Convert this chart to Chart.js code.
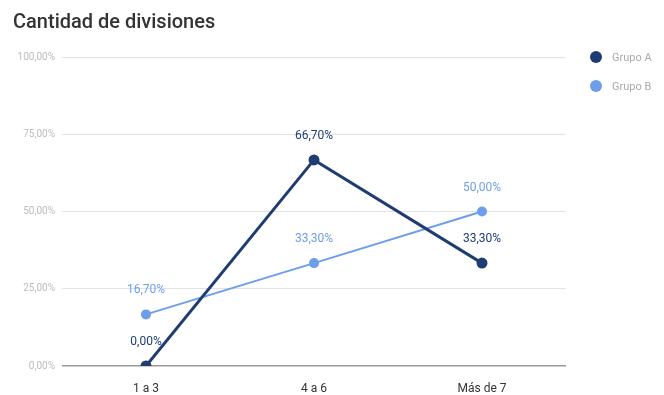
<!DOCTYPE html>
<html>
<head>
<meta charset="utf-8">
<script src="https://cdn.jsdelivr.net/npm/chart.js@4"></script>
<style>
  html, body { margin: 0; padding: 0; background: #fff; }
  #wrap { position: relative; width: 664px; height: 395px; font-family: Roboto, Arial, sans-serif; }
  #title { position: absolute; left: 13px; top: 9px; font-size: 20px; font-weight: 500; color: #333; }
  #legend { position: absolute; left: 590px; top: 51px; }
  .item { display: flex; align-items: center; height: 12px; margin-bottom: 17px; font-size: 11px; color: #aaa; }
  .dot { width: 12px; height: 12px; border-radius: 50%; margin-right: 10px; }
  canvas { position: absolute; left: 0; top: 0; }
</style>
</head>
<body>
<div id="wrap">
  <canvas id="chart" width="664" height="395"></canvas>
  <div id="title">Cantidad de divisiones</div>
  <div id="legend"></div>
</div>
<script>
// Data
const categories = ['1 a 3', '4 a 6', 'Más de 7'];
const grupoA = [0, 66.7, 33.3];
const grupoB = [16.7, 33.3, 50];
const seriesNames = ['Grupo A', 'Grupo B'];
const yTicks = [0, 25, 50, 75, 100];

const colorA = '#1f3d73';
const colorB = '#6d9eeb';

function pct(v) {
    return v.toFixed(2).replace('.', ',') + '%';
}

// Draws the value above each point, in the series colour
const pointLabels = {
    id: 'pointLabels',
    afterDatasetsDraw(chart) {
        const ctx = chart.ctx;
        ctx.save();
        ctx.font = '12px Roboto, Arial, sans-serif';
        ctx.textAlign = 'center';
        ctx.textBaseline = 'middle';
        chart.data.datasets.forEach((ds, i) => {
            const meta = chart.getDatasetMeta(i);
            meta.data.forEach((pt, j) => {
                ctx.fillStyle = ds.borderColor;
                ctx.fillText(pct(ds.data[j]), pt.x, pt.y - 24);
            });
        });
        ctx.restore();
    }
};

const ctx = document.getElementById('chart').getContext('2d');
const chart = new Chart(ctx, {
    type: 'line',
    data: {
        labels: categories,
        datasets: [{
            label: seriesNames[0],
            data: grupoA,
            borderColor: colorA,
            backgroundColor: colorA,
            borderWidth: 3,
            pointRadius: 4,
            tension: 0
        }, {
            label: seriesNames[1],
            data: grupoB,
            borderColor: colorB,
            backgroundColor: colorB,
            borderWidth: 2,
            pointRadius: 4,
            tension: 0
        }]
    },
    options: {
        responsive: false,
        animation: false,
        layout: {
            padding: { top: 57, right: 98, bottom: 0, left: 0 }
        },
        scales: {
            x: {
                offset: true,
                grid: { display: false },
                border: { display: false },
                ticks: {
                    color: '#333',
                    padding: 8,
                    font: { family: 'Roboto', size: 12 }
                },
                afterFit: (s) => { s.height = 29; }
            },
            y: {
                min: 0,
                max: 100,
                afterBuildTicks: (s) => { s.ticks = yTicks.map(v => ({ value: v })); },
                afterFit: (s) => { s.width = 62; },
                border: { display: false },
                grid: {
                    drawTicks: false,
                    color: (c) => c.tick.value === 0 ? '#999' : '#e3e3e3',
                    lineWidth: (c) => c.tick.value === 0 ? 1.5 : 1
                },
                ticks: {
                    color: '#bbb',
                    padding: 7,
                    font: { family: 'Roboto', size: 10 },
                    callback: (v) => pct(v)
                }
            }
        },
        plugins: {
            legend: { display: false },
            tooltip: { enabled: false }
        }
    },
    plugins: [pointLabels]
});

// Legend built from the datasets
const legend = document.getElementById('legend');
chart.data.datasets.forEach(ds => {
    const item = document.createElement('div');
    item.className = 'item';
    item.innerHTML = '<span class="dot" style="background:' + ds.borderColor + '"></span>' + ds.label;
    legend.appendChild(item);
});
</script>
</body>
</html>
